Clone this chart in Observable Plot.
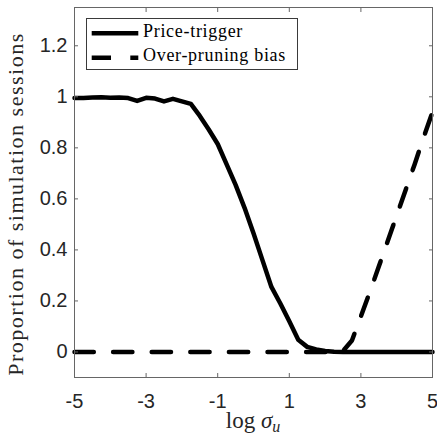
<!DOCTYPE html>
<html><head><meta charset="utf-8">
<script src="https://cdn.jsdelivr.net/npm/d3@7"></script>
<script src="https://cdn.jsdelivr.net/npm/@observablehq/plot@0.6"></script>
<style>
body{margin:0;background:#fff;}
#wrap{position:relative;width:437px;height:436px;}
.serif{font-family:'Liberation Serif', serif;color:#262626;position:absolute;white-space:nowrap;line-height:1;}
#ylab{font-size:22px;letter-spacing:1.5px;left:16px;top:204px;transform:translate(-50%,-50%) rotate(-90deg);}
#xlab{font-size:23px;top:409px;transform:translateX(-50%);}
#legend{position:absolute;left:86px;top:18px;width:212px;height:52px;box-sizing:border-box;border:1px solid #3a3a3a;background:#fff;}
#legend .serif{font-size:18px;letter-spacing:0.7px;color:#000;left:56px;}
</style></head><body><div id="wrap"></div>
<script>
// x grid (log sigma_u)
const logSigma = [-5,-4.75,-4.5,-4.25,-4,-3.75,-3.5,-3.25,-3,-2.75,-2.5,-2.25,-2,-1.75,-1.5,-1.25,-1,-0.75,-0.5,-0.25,0,
  0.25,0.5,0.75,1,1.25,1.5,1.75,2,2.25,2.5,2.75,3,3.25,3.5,3.75,4,4.25,4.5,4.75,5];
// Price-trigger proportion
const priceTrigger = [0.995,0.995,0.997,0.998,0.996,0.997,0.995,0.984,0.996,0.993,0.982,0.992,0.982,0.972,0.925,0.872,0.815,0.735,0.655,0.565,0.465,
  0.36,0.255,0.19,0.12,0.048,0.02,0.01,0.004,0.001,0,0,0,0,0,0,0,0,0,0,0];
// Over-pruning bias proportion
const overPruning = [0,0,0,0,0,0,0,0,0,0,0,0,0,0,0,0,0,0,0,0,0,
  0,0,0,0,0,0,0,0,0,0.004,0.045,0.14,0.235,0.335,0.435,0.535,0.635,0.735,0.84,0.94];
const seriesNames = ["Price-trigger","Over-pruning bias"];
const xTicks = [-5,-3,-1,1,3,5];
const yTicks = [0,0.2,0.4,0.6,0.8,1,1.2];

const rows = logSigma.map((x,i)=>({x, price: priceTrigger[i], over: overPruning[i]}));

const textColor = "#262626";
const frameColor = "#666";

const plot = Plot.plot({
  width:437, height:436,
  marginLeft:74, marginRight:5, marginTop:7, marginBottom:59,
  style:{fontFamily:"'Liberation Sans', Arial, sans-serif", fontSize:"20px", color:textColor, background:"#fff"},
  x:{domain:[-5,5]},
  y:{domain:[-0.1,1.35]},
  marks:[
    Plot.line(rows,{x:"x",y:"price",stroke:"#000",strokeWidth:4.5,strokeLinejoin:"round"}),
    Plot.line(rows,{x:"x",y:"over",stroke:"#000",strokeWidth:4.5,strokeDasharray:"19.3,19.3",strokeLinejoin:"round"}),
    Plot.frame({stroke:frameColor, strokeWidth:1}),
    Plot.axisX({anchor:"bottom",ticks:xTicks,tickSize:-4,tickPadding:20,stroke:frameColor,fill:textColor,tickFormat:d=>String(d),label:null,fontSize:20}),
    Plot.axisX({anchor:"top",ticks:xTicks,tickSize:-4,stroke:frameColor,tickFormat:()=>"",label:null}),
    Plot.axisY({anchor:"left",ticks:yTicks,tickSize:-4,tickPadding:11,stroke:frameColor,fill:textColor,tickFormat:d=>String(+d.toFixed(1)),label:null,fontSize:20}),
    Plot.axisY({anchor:"right",ticks:yTicks,tickSize:-4,stroke:frameColor,tickFormat:()=>"",label:null})
  ]
});
const wrap = d3.select("#wrap");
wrap.node().appendChild(plot);
const xs = plot.scale("x");

// y label
wrap.append("div").attr("id","ylab").attr("class","serif").text("Proportion of simulation sessions");

// x label
const xl = wrap.append("div").attr("id","xlab").attr("class","serif").style("left", xs.apply(0) + "px");
xl.append("span").text("log ");
xl.append("i").text("σ");
xl.append("i").append("sub").style("font-size","16px").style("vertical-align","-4px").text("u");

// legend
const lg = wrap.append("div").attr("id","legend");
const ls = lg.append("svg").attr("width",210).attr("height",50).style("position","absolute").style("left","0px").style("top","0px");
const rowsY = [14.3, 38.7];
const dashes = [null, "19.3,19.3"];
seriesNames.forEach((name,i)=>{
  const l = ls.append("line").attr("x1",4.7).attr("x2",51.3).attr("y1",rowsY[i]).attr("y2",rowsY[i])
    .attr("stroke","#000").attr("stroke-width",4.5);
  if (dashes[i]) l.attr("stroke-dasharray", dashes[i]);
  lg.append("div").attr("class","serif").style("top", (rowsY[i] + 3.5 - 15) + "px").text(name);
});
</script></body></html>
